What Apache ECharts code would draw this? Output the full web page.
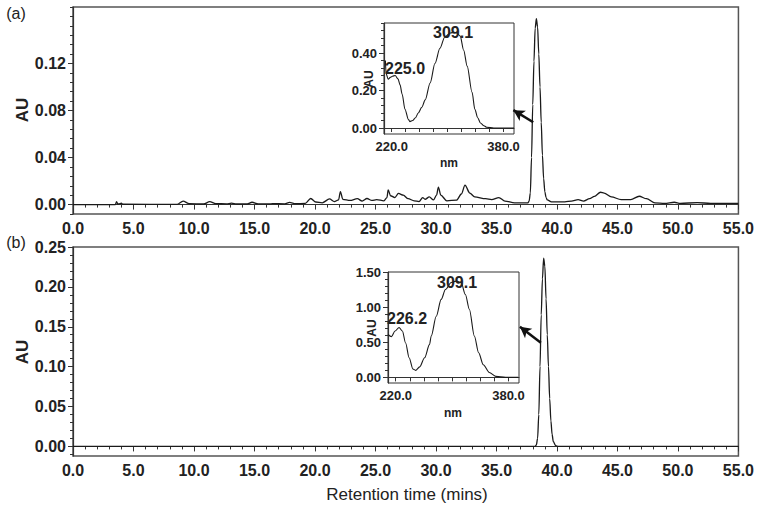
<!DOCTYPE html>
<html>
<head>
<meta charset="utf-8">
<script src="https://cdn.jsdelivr.net/npm/echarts@6/dist/echarts.min.js"></script>
<style>
  html, body { margin: 0; padding: 0; background: #ffffff; }
  #chart { width: 757px; height: 512px; }
</style>
</head>
<body>
<div id="chart"></div>
<script>
// chromatogram (a): [time (min), AU]
const traceA = [
  [0, 0], [3.5, 0], [3.6, 0.0025], [3.7, 0.0005], [3.9, 0.0008], [4.0, 0.0012], [4.1, 0.0003],
  [8.6, 0.0002], [9.1, 0.003], [9.6, 0.0008], [10.8, 0.0005], [11.3, 0.0025], [11.8, 0.0008],
  [12.7, 0.0006], [13.1, 0.0012], [13.5, 0.0005], [14.4, 0.0005], [14.8, 0.002], [15.3, 0.0006],
  [16.2, 0.0005], [16.5, 0.0008], [17.5, 0.0006], [17.9, 0.0018], [18.4, 0.0008], [19.2, 0.001],
  [19.65, 0.0052], [20.06, 0.0022], [20.6, 0.0015], [21.2, 0.0048], [21.6, 0.0025], [21.95, 0.004],
  [22.1, 0.011], [22.3, 0.0045], [22.9, 0.0035], [23.5, 0.005], [23.9, 0.003], [24.3, 0.0052],
  [24.7, 0.0035], [25.1, 0.0042], [25.7, 0.0032], [25.95, 0.006], [26.05, 0.0125], [26.25, 0.0075],
  [26.6, 0.006], [26.9, 0.0095], [27.3, 0.008], [27.7, 0.005], [28.2, 0.0032], [28.6, 0.0025],
  [28.9, 0.006], [29.1, 0.0045], [29.45, 0.0065], [29.8, 0.004], [30.05, 0.008], [30.2, 0.0148],
  [30.4, 0.008], [30.9, 0.0032], [31.7, 0.0038], [32.1, 0.009], [32.4, 0.0165], [32.8, 0.0098],
  [33.2, 0.0065], [34.1, 0.005], [34.6, 0.0042], [35.2, 0.006], [35.7, 0.003], [36.5, 0.0015],
  [37.6, 0.0015], [37.7, 0.003], [37.8, 0.01], [37.9, 0.04], [38.0, 0.085], [38.1, 0.122],
  [38.2, 0.15], [38.3, 0.158], [38.4, 0.151], [38.5, 0.128], [38.6, 0.1], [38.7, 0.07],
  [38.8, 0.042], [38.9, 0.022], [39.0, 0.011], [39.1, 0.006], [39.2, 0.004], [39.55, 0.0023],
  [40.65, 0.0023], [41.2, 0.003], [41.75, 0.0043], [42.2, 0.003], [42.7, 0.005], [43.1, 0.007],
  [43.6, 0.0105], [43.9, 0.0098], [44.5, 0.0065], [45.3, 0.0043], [46.1, 0.0043], [46.8, 0.0071],
  [47.4, 0.005], [48.1, 0.0015], [48.9, 0.001], [49.7, 0.002], [50.2, 0.001], [51.6, 0.0017],
  [52.7, 0.001], [55, 0.001]
];

// chromatogram (b)
const traceB = [
  [0, 0], [38.2, 0], [38.3, 0.002], [38.4, 0.01], [38.5, 0.04], [38.6, 0.1], [38.7, 0.165],
  [38.8, 0.21], [38.9, 0.236], [39.0, 0.226], [39.1, 0.185], [39.2, 0.14], [39.3, 0.1],
  [39.4, 0.06], [39.5, 0.032], [39.6, 0.015], [39.7, 0.006], [39.9, 0.001], [40.1, 0], [55, 0]
];

// UV spectra of the main peak: [nm, AU]
const spectrumA = [
  [211, 0.36], [212, 0.29], [215, 0.26], [218, 0.27], [221, 0.276], [225, 0.28], [229, 0.262],
  [232, 0.23], [235, 0.18], [239, 0.1], [244, 0.045], [246, 0.034], [250, 0.04], [254, 0.055],
  [258, 0.08], [263, 0.11], [268, 0.15], [275, 0.24], [282, 0.345], [289, 0.425], [296, 0.485],
  [304, 0.507], [309, 0.51], [313, 0.507], [318, 0.49], [323, 0.415], [328, 0.33], [335, 0.19],
  [339, 0.1], [343, 0.055], [347, 0.027], [352, 0.012], [356, 0.004], [366, 0], [395, 0]
];
const spectrumB = [
  [209, 0.61], [214, 0.58], [219, 0.66], [224.7, 0.71], [229.4, 0.66], [234, 0.49], [239, 0.28],
  [244.4, 0.12], [248.2, 0.1], [254, 0.15], [261, 0.28], [268, 0.47], [270.4, 0.59], [277.5, 0.87],
  [284.5, 1.11], [290.6, 1.25], [298.7, 1.35], [305.7, 1.37], [312.8, 1.35], [318.9, 1.18],
  [324.5, 0.97], [331.6, 0.59], [337.7, 0.35], [344.3, 0.18], [352.8, 0.07], [362, 0.014],
  [376, 0], [394, 0]
];

// tick labels
const yTicksA = [0, 0.04, 0.08, 0.12];
const yTicksB = [0, 0.05, 0.10, 0.15, 0.20, 0.25];
const insetYTicksA = [0, 0.2, 0.4];
const insetYTicksB = [0, 0.5, 1.0, 1.5];
const insetXLabels = [220, 380];
const peakLabelsA = ['309.1', '225.0'];
const peakLabelsB = ['309.1', '226.2'];

function steps(from, to, step) {
  const out = [];
  for (let v = from; v <= to + 1e-9; v += step) out.push(+v.toFixed(4));
  return out;
}

const FONT = '"Liberation Sans", Arial, sans-serif';
const INK = '#222';
const AXIS = '#333';

const chart = echarts.init(document.getElementById('chart'), null, { renderer: 'svg' });

function mainX(gridIndex) {
  return {
    type: 'value', gridIndex: gridIndex, min: 0, max: 55, interval: 5,
    axisLine: { lineStyle: { color: AXIS, width: 1.2 } },
    axisTick: { length: 5, lineStyle: { color: AXIS } },
    minorTick: { show: true, splitNumber: 5, length: 3, lineStyle: { color: AXIS } },
    splitLine: { show: false },
    axisLabel: { margin: 6, color: INK, fontFamily: FONT, fontWeight: 'bold', fontSize: 16,
      formatter: v => v.toFixed(1) }
  };
}
function majorY(gridIndex, min, max, ticks, digits, size) {
  return {
    type: 'value', gridIndex: gridIndex, min: min, max: max, position: 'left',
    axisLine: { lineStyle: { color: AXIS, width: 1.2 } },
    axisTick: { customValues: ticks, length: 5, lineStyle: { color: AXIS } },
    splitLine: { show: false },
    axisLabel: { customValues: ticks, margin: 7, color: INK, fontFamily: FONT, fontWeight: 'bold',
      fontSize: size, formatter: v => v.toFixed(digits) }
  };
}
function minorY(gridIndex, min, max, ticks) {
  return {
    type: 'value', gridIndex: gridIndex, min: min, max: max, position: 'left', offset: 0,
    axisLine: { show: false },
    axisTick: { customValues: ticks, length: 3, lineStyle: { color: AXIS } },
    axisLabel: { show: false },
    splitLine: { show: false }
  };
}
function insetX(gridIndex) {
  return {
    type: 'value', gridIndex: gridIndex, min: 209, max: 395,
    axisLine: { lineStyle: { color: AXIS } },
    axisTick: { customValues: steps(220, 380, 20), length: 4, lineStyle: { color: AXIS } },
    splitLine: { show: false },
    axisLabel: { customValues: insetXLabels, margin: 6, color: INK, fontFamily: FONT,
      fontWeight: 'bold', fontSize: 13, formatter: v => v.toFixed(1) }
  };
}
function text(str, x, y, size, weight, rotate) {
  return {
    type: 'text', x: x, y: y, rotation: rotate ? Math.PI / 2 : 0, silent: true, z: 100,
    style: { text: str, fill: INK, font: weight + ' ' + size + 'px ' + FONT,
      align: 'center', verticalAlign: 'middle', textAlign: 'center', textVerticalAlign: 'middle' }
  };
}

const lineStyle = { color: '#1a1a1a', width: 1.3 };
const arrowLine = (from, to) => ({
  silent: true, animation: false, symbol: ['none', 'arrow'], symbolSize: [9, 11],
  label: { show: false },
  lineStyle: { color: '#111', width: 2.5, type: 'solid' },
  data: [[{ coord: from }, { coord: to }]]
});

chart.setOption({
  backgroundColor: '#ffffff',
  animation: false,
  grid: [
    { left: 73, top: 7, width: 668, height: 207, show: true, borderColor: '#555', borderWidth: 1.5 },
    { left: 73, top: 247, width: 668, height: 209, show: true, borderColor: '#555', borderWidth: 1.5 },
    { left: 384, top: 23, width: 130, height: 111, show: true, backgroundColor: '#fff',
      borderColor: AXIS, borderWidth: 1 },
    { left: 388, top: 272, width: 131, height: 111, show: true, backgroundColor: '#fff',
      borderColor: AXIS, borderWidth: 1 }
  ],
  xAxis: [mainX(0), mainX(1), insetX(2), insetX(3)],
  yAxis: [
    majorY(0, -0.008, 0.168, yTicksA, 2, 16),
    minorY(0, -0.008, 0.168, steps(-0.008, 0.168, 0.008)),
    majorY(1, -0.012, 0.25, yTicksB, 2, 16),
    minorY(1, -0.012, 0.25, steps(-0.01, 0.25, 0.01)),
    majorY(2, -0.032, 0.56, insetYTicksA, 2, 13),
    minorY(2, -0.032, 0.56, steps(0, 0.56, 0.04)),
    majorY(3, -0.08, 1.5, insetYTicksB, 2, 13),
    minorY(3, -0.08, 1.5, steps(0, 1.5, 0.1))
  ],
  series: [
    { type: 'line', xAxisIndex: 0, yAxisIndex: 0, data: traceA, showSymbol: false,
      smooth: 0.3, smoothMonotone: 'x', lineStyle: lineStyle,
      markLine: arrowLine([38.04, 0.07], [36.4, 0.0803]) },
    { type: 'line', xAxisIndex: 1, yAxisIndex: 2, data: traceB, showSymbol: false,
      smooth: 0.3, smoothMonotone: 'x', lineStyle: lineStyle,
      markLine: arrowLine([38.67, 0.13], [36.94, 0.15]) },
    { type: 'line', xAxisIndex: 2, yAxisIndex: 4, data: spectrumA, showSymbol: false,
      smooth: 0.3, smoothMonotone: 'x', lineStyle: { color: '#1a1a1a', width: 1.1 }, z: 5 },
    { type: 'line', xAxisIndex: 3, yAxisIndex: 6, data: spectrumB, showSymbol: false,
      smooth: 0.3, smoothMonotone: 'x', lineStyle: { color: '#1a1a1a', width: 1.1 }, z: 5 }
  ],
  graphic: [
    text('(a)', 16, 13, 16, 'normal'),
    text('(b)', 16, 242, 16, 'normal'),
    text('AU', 22, 110, 17, 'bold', true),
    text('AU', 22, 352, 17, 'bold', true),
    text('Retention time (mins)', 407, 494, 17, 'normal'),
    text('AU', 369, 79, 12, 'bold', true),
    text('AU', 372, 328, 12, 'bold', true),
    text('nm', 449, 163, 12, 'bold'),
    text('nm', 453, 413, 12, 'bold'),
    text(peakLabelsA[0], 453, 32, 16, 'bold'),
    text(peakLabelsA[1], 405, 68, 16, 'bold'),
    text(peakLabelsB[0], 457, 282, 16, 'bold'),
    text(peakLabelsB[1], 407, 318, 16, 'bold')
  ]
});
</script>
</body>
</html>
